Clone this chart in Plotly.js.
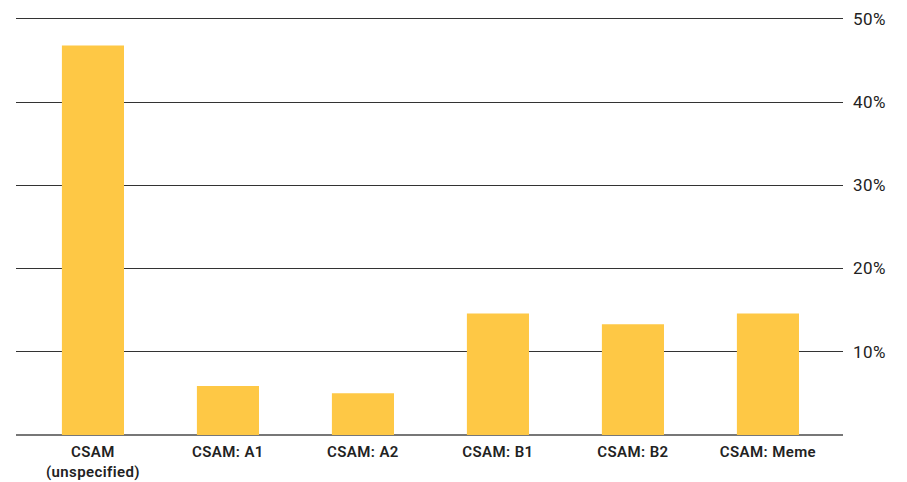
<!DOCTYPE html>
<html>
<head>
<meta charset="utf-8">
<script src="https://cdn.plot.ly/plotly-3.0.1.min.js"></script>
<style>
  html, body { margin: 0; padding: 0; background: #fff; }
  #chart { width: 907px; height: 482px; }
  .xtick text { letter-spacing: 0.4px; }
  .ytick text { letter-spacing: 0.4px; }
</style>
</head>
<body>
<div id="chart"></div>
<script>
// Share of reports by CSAM category (percent)
const categories = [
  'CSAM<br>(unspecified)',
  'CSAM: A1',
  'CSAM: A2',
  'CSAM: B1',
  'CSAM: B2',
  'CSAM: Meme'
];
const shares = [46.8, 5.9, 5.0, 14.6, 13.3, 14.6];
const tickValues = [10, 20, 30, 40, 50];
const tickLabels = ['10%', '20%', '30%', '40%', '50%'];

const trace = {
  type: 'bar',
  x: categories,
  y: shares,
  width: 0.46,
  marker: { color: '#FEC845', line: { width: 0 } },
  hoverinfo: 'x+y'
};

const layout = {
  width: 907,
  height: 482,
  margin: { l: 16, r: 64, t: 16, b: 47, pad: 0 },
  paper_bgcolor: '#ffffff',
  plot_bgcolor: '#ffffff',
  showlegend: false,
  font: { family: 'Roboto, "Open Sans", sans-serif', color: '#222' },
  xaxis: {
    type: 'category',
    range: [-0.57, 5.556],
    showgrid: false,
    zeroline: false,
    showline: false,
    ticks: '',
    ticklabelstandoff: 6,
    tickfont: { size: 15, color: '#222', weight: 600, family: 'Roboto, sans-serif' }
  },
  yaxis: {
    side: 'right',
    // a little headroom so the 50% gridline is drawn
    range: [0, 50.33],
    tickvals: tickValues,
    ticktext: tickLabels,
    showgrid: true,
    gridcolor: '#333333',
    gridwidth: 1,
    zeroline: true,
    zerolinecolor: '#777777',
    zerolinewidth: 2,
    showline: false,
    ticks: '',
    ticklabelstandoff: 9,
    tickfont: { size: 17, color: '#222', family: 'Roboto, sans-serif' }
  }
};

Plotly.newPlot('chart', [trace], layout, { displayModeBar: false, staticPlot: true });
</script>
</body>
</html>
